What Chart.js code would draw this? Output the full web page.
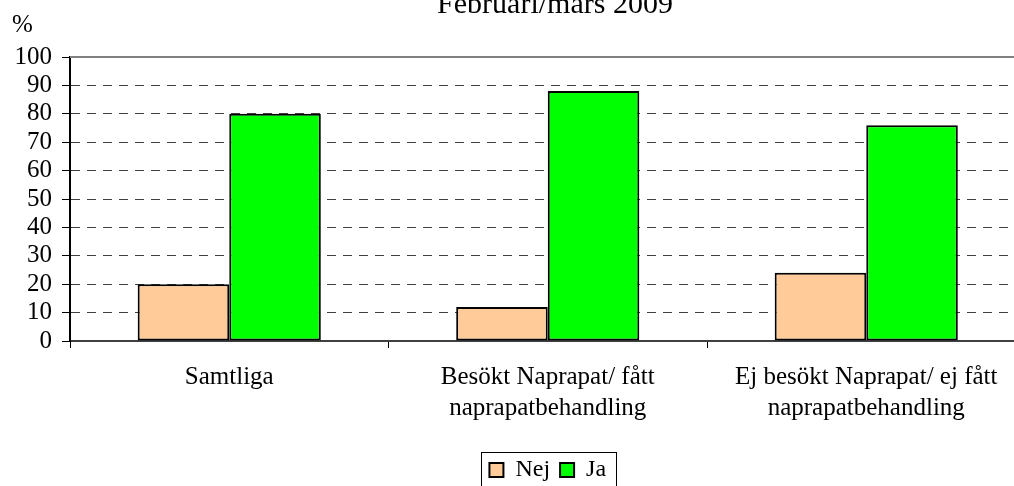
<!DOCTYPE html>
<html>
<head>
<meta charset="utf-8">
<title>Februari/mars 2009</title>
<script src="https://cdn.jsdelivr.net/npm/chart.js@4"></script>
<style>
  html, body { margin: 0; padding: 0; background: #fff; overflow: hidden; }
  #wrap { position: relative; width: 1030px; height: 495px; }
</style>
</head>
<body>
<div id="wrap"><canvas id="myChart"></canvas></div>
<script>
var categories = ['Samtliga', ['Besökt Naprapat/ fått', 'naprapatbehandling'], ['Ej besökt Naprapat/ ej fått', 'naprapatbehandling']]
var nej = [20, 12, 24]
var ja = [80, 88, 76]
var seriesNames = ['Nej', 'Ja']
var yMin = 0
var yMax = 100
var yStep = 10
var chartTitle = 'Februari/mars 2009'
var unitLabel = '%'

var serif = '"Liberation Serif", "Times New Roman", serif'
Chart.defaults.font.family = serif
Chart.defaults.color = '#000'

// title, % label, frame line on top and the box round the legend
const extras = {
    id: 'extras',
    afterDraw(chart) {
        const ctx = chart.ctx
        const area = chart.chartArea
        ctx.save()
        ctx.strokeStyle = '#808080'
        ctx.lineWidth = 2
        ctx.beginPath()
        ctx.moveTo(area.left, area.top)
        ctx.lineTo(area.right, area.top)
        ctx.stroke()

        ctx.fillStyle = '#000'
        ctx.font = '30px ' + serif
        ctx.textAlign = 'center'
        ctx.textBaseline = 'alphabetic'
        ctx.fillText(chartTitle, 555, 13)
        ctx.font = '25px ' + serif
        ctx.textAlign = 'left'
        ctx.fillText(unitLabel, 12, 32)

        const boxes = chart.legend.legendHitBoxes
        if (boxes && boxes.length) {
            const first = boxes[0]
            const last = boxes[boxes.length - 1]
            const x1 = Math.round(first.left - 8) + 0.5
            const x2 = Math.round(last.left + last.width + 10) + 0.5
            const y1 = Math.round(first.top - 6) + 0.5
            ctx.strokeStyle = '#000'
            ctx.lineWidth = 1
            ctx.strokeRect(x1, y1, x2 - x1, 37)
        }
        ctx.restore()
    }
}

function chart() {
    const ctx = document.getElementById('myChart')
    const myChart = new Chart(ctx, {
        type: 'bar',
        data: {
            labels: categories,
            datasets: [{
                label: seriesNames[0],
                data: nej,
                backgroundColor: '#FFCC99',
                borderColor: '#000',
                borderWidth: 2,
                borderSkipped: false,
                categoryPercentage: 0.575,
                barPercentage: 1
            }, {
                label: seriesNames[1],
                data: ja,
                backgroundColor: '#00FF00',
                borderColor: '#000',
                borderWidth: 2,
                borderSkipped: false,
                categoryPercentage: 0.575,
                barPercentage: 1
            }]
        },
        options: {
            responsive: true,
            maintainAspectRatio: false,
            animation: false,
            layout: { padding: { top: 57, left: 0, right: 4.5, bottom: 3 } },
            plugins: {
                title: { display: false },
                tooltip: { enabled: false },
                legend: {
                    position: 'bottom',
                    fullSize: false,
                    labels: {
                        boxWidth: 14,
                        boxHeight: 14,
                        padding: 10,
                        color: '#000',
                        font: { size: 24 }
                    }
                }
            },
            scales: {
                x: {
                    afterFit: function (scale) { scale.height = 107 },
                    grid: {
                        display: true,
                        drawOnChartArea: false,
                        drawTicks: true,
                        tickLength: 7,
                        color: '#000',
                        tickColor: '#000'
                    },
                    border: { display: true, color: '#404040', width: 2 },
                    ticks: {
                        autoSkip: false,
                        maxRotation: 0,
                        padding: 14,
                        color: '#000',
                        font: { size: 25, lineHeight: 1.24 }
                    }
                },
                y: {
                    min: yMin,
                    max: yMax,
                    afterFit: function (scale) { scale.width = 70 },
                    grid: {
                        color: '#404040',
                        lineWidth: 1,
                        tickLength: 8,
                        tickColor: '#000'
                    },
                    border: { display: true, color: '#000', width: 2, dash: [9, 7] },
                    ticks: {
                        stepSize: yStep,
                        autoSkip: false,
                        padding: 10,
                        color: '#000',
                        font: { size: 25 }
                    }
                }
            }
        },
        plugins: [extras]
    })
    return myChart
}

chart()
</script>
</body>
</html>
